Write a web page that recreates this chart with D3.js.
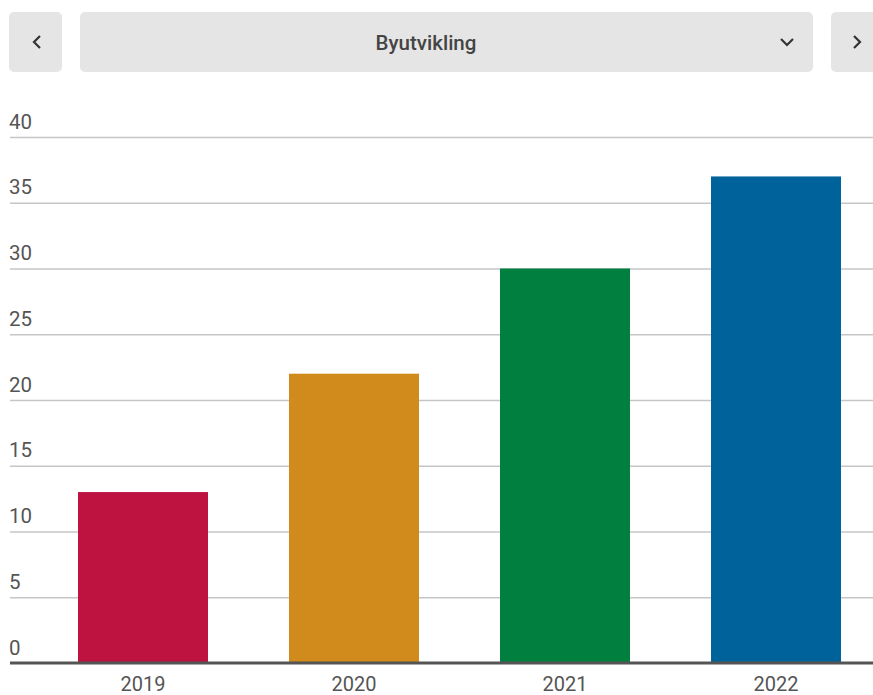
<!DOCTYPE html>
<html>
<head>
<meta charset="utf-8">
<script src="https://cdn.jsdelivr.net/npm/d3@7"></script>
<style>
  html, body { margin: 0; padding: 0; background: #fff; }
  svg { display: block; }
  svg text { font-family: Roboto, "Noto Sans", sans-serif; }
</style>
</head>
<body>
<div id="chart"></div>
<script>
const title = 'Byutvikling';
const years = ['2019', '2020', '2021', '2022'];
const values = [13, 22, 30, 37];
const colors = ['#be1341', '#d18a1c', '#007f3e', '#00629b'];
const yTicks = [0, 5, 10, 15, 20, 25, 30, 35, 40];

const width = 873, height = 695;
const font = 'Roboto, "Noto Sans", sans-serif';
const svg = d3.select('#chart').append('svg')
  .attr('width', width)
  .attr('height', height);

// header: prev / select / next
const header = svg.append('g');
header.append('rect').attr('x', 9).attr('y', 12).attr('width', 53).attr('height', 60).attr('rx', 5).attr('fill', '#e5e5e5');
header.append('rect').attr('x', 80).attr('y', 12).attr('width', 733).attr('height', 60).attr('rx', 5).attr('fill', '#e5e5e5');
header.append('rect').attr('x', 831).attr('y', 12).attr('width', 60).attr('height', 60).attr('rx', 5).attr('fill', '#e5e5e5');

header.append('text')
  .attr('x', 426).attr('y', 50)
  .attr('text-anchor', 'middle')
  .attr('font-family', font)
  .attr('font-size', 20.5)
  .attr('font-weight', 500)
  .attr('fill', '#444')
  .text(title);

const chevron = (d) => header.append('path')
  .attr('d', d)
  .attr('fill', 'none')
  .attr('stroke', '#333')
  .attr('stroke-width', 2.2);
chevron('M40,36 L34,42 L40,48');
chevron('M781,39 L787,45 L793,39');
chevron('M854,36 L860,42 L854,48');

// chart
const margin = { top: 137, bottom: 663, left: 10, right: 873 };

const y = d3.scaleLinear()
  .domain([0, 40])
  .range([margin.bottom, margin.top]);

const x = d3.scaleBand()
  .domain(years)
  .range([37.5, 881.5])
  .paddingInner(0.384)
  .paddingOuter(0.192);

const grid = svg.append('g')
  .attr('transform', `translate(${margin.left},0)`)
  .call(d3.axisLeft(y).tickValues(yTicks).tickSize(-(margin.right - margin.left)).tickFormat(d3.format('d')))
  .attr('font-family', font);
grid.select('.domain').remove();
grid.selectAll('.tick line')
  .attr('stroke', '#c6c6c6')
  .attr('stroke-width', 1.6)
  .filter(d => d === 0).remove();
grid.selectAll('.tick text')
  .attr('x', -1)
  .attr('dy', -9)
  .attr('text-anchor', 'start')
  .attr('font-size', 20.5)
  .attr('fill', '#555');

svg.selectAll('rect.bar')
  .data(years)
  .enter()
  .append('rect')
  .attr('class', 'bar')
  .attr('x', d => x(d))
  .attr('y', (d, i) => y(values[i]))
  .attr('width', x.bandwidth())
  .attr('height', (d, i) => y(0) - y(values[i]))
  .attr('fill', (d, i) => colors[i]);

// baseline
svg.append('line')
  .attr('x1', margin.left).attr('x2', margin.right)
  .attr('y1', y(0)).attr('y2', y(0))
  .attr('stroke', '#555')
  .attr('stroke-width', 3);

const xAxis = svg.append('g')
  .attr('transform', `translate(0,${y(0)})`)
  .call(d3.axisBottom(x).tickSize(0))
  .attr('font-family', font);
xAxis.select('.domain').remove();
xAxis.selectAll('.tick text')
  .attr('y', 28)
  .attr('dy', 0)
  .attr('font-size', 20)
  .attr('fill', '#555');
</script>
</body>
</html>
